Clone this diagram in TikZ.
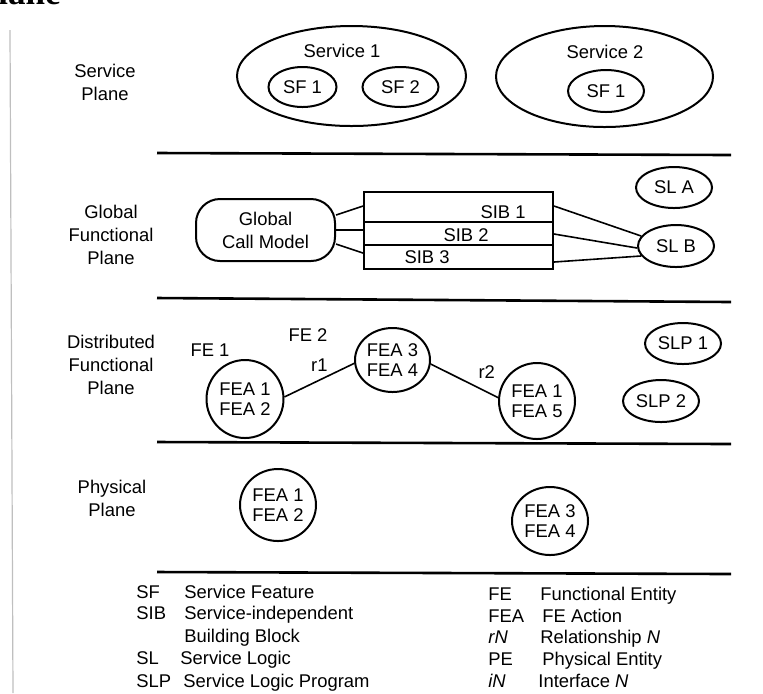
\documentclass[tikz,border=0pt]{standalone}
\usepackage{fontspec}
\setmainfont{Liberation Sans}
\newfontfamily\headserif{Liberation Serif}
\usetikzlibrary{shapes.geometric, calc}

\begin{document}
\begin{tikzpicture}[
  x=0.5pt, y=-0.5pt,
  every node/.style={font=\fontsize{9.2}{11.5}\selectfont, inner sep=0pt},
  ent/.style={ellipse, draw, line width=1pt, align=center,
              font=\fontsize{9.2}{10}\selectfont},
  sibrow/.style={rectangle, draw, line width=1pt, minimum width=94.5pt},
  divider/.style={line width=1.3pt},
  conn/.style={line width=0.8pt},
  planelbl/.style={align=center}
]
\useasboundingbox (0,0) rectangle (763,693);

% Page edge and cut heading
\draw[gray!50, line width=0.6pt] (10,30) -- (13,693);
\node[anchor=base west, font=\headserif\bfseries\fontsize{17.5}{20}\selectfont] (head) at (-2,4) {lane};

% Service plane
\node[planelbl] (splbl) at (105,82.5) {Service\\Plane};
\node[ent, minimum width=114.5pt, minimum height=50pt] (serv1) at (351.5,76) {};
\node (serv1lbl) at (342,51) {Service 1};
\node[ent, minimum width=34pt, minimum height=20pt] (sf11) at (302.5,87) {SF 1};
\node[ent, minimum width=38pt, minimum height=20pt] (sf12) at (400.5,87) {SF 2};
\node[ent, minimum width=108.5pt, minimum height=50.5pt] (serv2) at (604.5,76.5) {};
\node (serv2lbl) at (605,52) {Service 2};
\node[ent, minimum width=38pt, minimum height=21pt] (sf21) at (606,91) {SF 1};

% Plane boundaries
\foreach \ya/\yb in {153/155, 298/302, 442/444, 572/574} {
  \draw[divider] (157,\ya) -- (731,\yb);
}

% Global functional plane
\node[planelbl] (gflbl) at (111,234.5) {Global\\Functional\\Plane};
\node[draw, line width=1pt, rounded corners=12pt, minimum width=69.5pt,
      minimum height=31pt, align=center] (gcm) at (265.5,230) {Global\\Call Model};
\node[sibrow, minimum height=15pt]   (sib1) at (458.5,207) {};
\node[sibrow, minimum height=11.5pt] (sib2) at (458.5,233.5) {};
\node[sibrow, minimum height=12pt]   (sib3) at (458.5,257) {};
\node (sib1lbl) at (503,212) {SIB 1};
\node (sib2lbl) at (466,235) {SIB 2};
\node (sib3lbl) at (427,257) {SIB 3};
\node[ent, minimum width=38pt, minimum height=20.5pt] (sla) at (674,187.5) {SL A};
\node[ent, minimum width=38pt, minimum height=21pt] (slb) at (676,246) {SL B};
\draw[conn] ([yshift=7.5pt]gcm.east) -- ([yshift=0.5pt]sib1.west);
\draw[conn] (gcm.east) -- ([yshift=1.75pt]sib2.west);
\draw[conn] ([yshift=-7pt]gcm.east) -- ([yshift=2pt]sib3.west);
\draw[conn] ([yshift=0.5pt]sib1.east) -- (slb.164);
\draw[conn] ([yshift=-0.25pt]sib2.east) -- (slb.183);
\draw[conn] ([yshift=-2.5pt]sib3.east) -- (slb.196);

% Distributed functional plane
\node[planelbl] (dflbl) at (111,364.5) {Distributed\\Functional\\Plane};
\node (fe1lbl) at (210,350) {FE 1};
\node (fe2lbl) at (308,335) {FE 2};
\node[ent, minimum width=38.5pt, minimum height=39pt] (fea12) at (245,399) {FEA 1\\FEA 2};
\node[ent, minimum width=37.5pt, minimum height=32pt] (fea34) at (392.5,360) {FEA 3\\FEA 4};
\node[ent, minimum width=38pt, minimum height=38pt] (fea15) at (537,401) {FEA 1\\FEA 5};
\draw[conn] (fea12.3) -- node[midway, above=4pt] (r1lbl) {r1} (fea34.185);
\draw[conn] (fea34.354) -- node[pos=0.83, above=6.5pt] (r2lbl) {r2} (fea15.175);
\node[ent, minimum width=38pt, minimum height=20.5pt] (slp1) at (683,343.5) {SLP 1};
\node[ent, minimum width=38pt, minimum height=21pt] (slp2) at (661,401) {SLP 2};

% Physical plane
\node[planelbl] (pplbl) at (112,498.5) {Physical\\Plane};
\node[ent, minimum width=38pt, minimum height=36pt] (pfea12) at (278,505) {FEA 1\\FEA 2};
\node[ent, minimum width=38pt, minimum height=34pt] (pfea34) at (550,521) {FEA 3\\FEA 4};

% Legend
\foreach \ab/\desc/\dx/\y [count=\i] in {SF/Service Feature/184/598,
    SIB/Service-independent/184/619, /Building Block/184/642,
    SL/Service Logic/180/664, SLP/Service Logic Program/183/687} {
  \node[anchor=base west] (labl\i) at (136,\y) {\ab};
  \node[anchor=base west] (ldes\i) at (\dx,\y) {\desc};
}
\foreach \ab/\desc/\dx/\y [count=\i] in {FE/Functional Entity/540/600,
    FEA/FE Action/542/622, {\textit{rN}}/{Relationship \textit{N}}/540/643,
    PE/Physical Entity/542/665, {\textit{iN}}/{Interface \textit{N}}/538/687} {
  \node[anchor=base west] (rabl\i) at (488,\y) {\ab};
  \node[anchor=base west] (rdes\i) at (\dx,\y) {\desc};
}
\end{tikzpicture}
\end{document}
